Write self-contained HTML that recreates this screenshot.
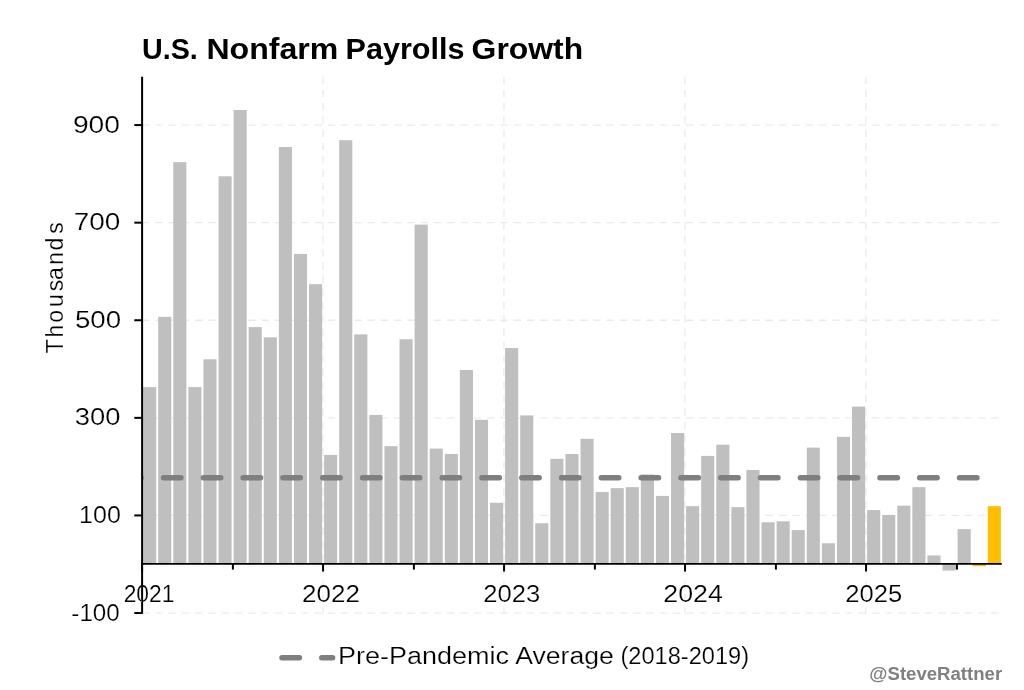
<!DOCTYPE html><html><head><meta charset="utf-8"><style>html,body{margin:0;padding:0;background:#fff;width:1024px;height:690px;overflow:hidden}svg{display:block;will-change:transform}text{font-family:"Liberation Sans",sans-serif}</style></head><body>
<svg width="1024" height="690" viewBox="0 0 1024 690">
<rect width="1024" height="690" fill="#fff"/>
<defs><clipPath id="ax"><rect x="142" y="76" width="862" height="540"/></clipPath></defs>
<line x1="142" y1="613.04" x2="1002" y2="613.04" stroke="#ebebeb" stroke-width="1.3" stroke-dasharray="7.4 5.87"/>
<line x1="142" y1="515.44" x2="1002" y2="515.44" stroke="#ebebeb" stroke-width="1.3" stroke-dasharray="7.4 5.87"/>
<line x1="142" y1="417.85" x2="1002" y2="417.85" stroke="#ebebeb" stroke-width="1.3" stroke-dasharray="7.4 5.87"/>
<line x1="142" y1="320.25" x2="1002" y2="320.25" stroke="#ebebeb" stroke-width="1.3" stroke-dasharray="7.4 5.87"/>
<line x1="142" y1="222.66" x2="1002" y2="222.66" stroke="#ebebeb" stroke-width="1.3" stroke-dasharray="7.4 5.87"/>
<line x1="142" y1="125.07" x2="1002" y2="125.07" stroke="#ebebeb" stroke-width="1.3" stroke-dasharray="7.4 5.87"/>
<line x1="322.95" y1="613.2" x2="322.95" y2="76.7" stroke="#ebebeb" stroke-width="1.3" stroke-dasharray="7.4 5.87" stroke-dashoffset="1.5"/>
<line x1="503.95" y1="613.2" x2="503.95" y2="76.7" stroke="#ebebeb" stroke-width="1.3" stroke-dasharray="7.4 5.87" stroke-dashoffset="1.5"/>
<line x1="684.95" y1="613.2" x2="684.95" y2="76.7" stroke="#ebebeb" stroke-width="1.3" stroke-dasharray="7.4 5.87" stroke-dashoffset="1.5"/>
<line x1="865.95" y1="613.2" x2="865.95" y2="76.7" stroke="#ebebeb" stroke-width="1.3" stroke-dasharray="7.4 5.87" stroke-dashoffset="1.5"/>
<rect x="143.10" y="387.11" width="13.1" height="176.89" fill="#bfbfbf"/>
<rect x="158.18" y="316.84" width="13.1" height="247.16" fill="#bfbfbf"/>
<rect x="173.27" y="162.15" width="13.1" height="401.85" fill="#bfbfbf"/>
<rect x="188.35" y="387.11" width="13.1" height="176.89" fill="#bfbfbf"/>
<rect x="203.43" y="359.29" width="13.1" height="204.71" fill="#bfbfbf"/>
<rect x="218.52" y="176.30" width="13.1" height="387.70" fill="#bfbfbf"/>
<rect x="233.60" y="109.94" width="13.1" height="454.06" fill="#bfbfbf"/>
<rect x="248.68" y="327.09" width="13.1" height="236.91" fill="#bfbfbf"/>
<rect x="263.77" y="337.33" width="13.1" height="226.67" fill="#bfbfbf"/>
<rect x="278.85" y="147.03" width="13.1" height="416.97" fill="#bfbfbf"/>
<rect x="293.93" y="253.89" width="13.1" height="310.11" fill="#bfbfbf"/>
<rect x="309.02" y="284.15" width="13.1" height="279.85" fill="#bfbfbf"/>
<rect x="324.10" y="454.93" width="13.1" height="109.07" fill="#bfbfbf"/>
<rect x="339.18" y="140.19" width="13.1" height="423.81" fill="#bfbfbf"/>
<rect x="354.27" y="334.41" width="13.1" height="229.59" fill="#bfbfbf"/>
<rect x="369.35" y="414.92" width="13.1" height="149.08" fill="#bfbfbf"/>
<rect x="384.43" y="446.15" width="13.1" height="117.85" fill="#bfbfbf"/>
<rect x="399.52" y="339.29" width="13.1" height="224.71" fill="#bfbfbf"/>
<rect x="414.60" y="224.61" width="13.1" height="339.39" fill="#bfbfbf"/>
<rect x="429.68" y="448.59" width="13.1" height="115.41" fill="#bfbfbf"/>
<rect x="444.77" y="453.96" width="13.1" height="110.04" fill="#bfbfbf"/>
<rect x="459.85" y="370.03" width="13.1" height="193.97" fill="#bfbfbf"/>
<rect x="474.93" y="419.80" width="13.1" height="144.20" fill="#bfbfbf"/>
<rect x="490.02" y="502.76" width="13.1" height="61.24" fill="#bfbfbf"/>
<rect x="505.10" y="348.07" width="13.1" height="215.93" fill="#bfbfbf"/>
<rect x="520.18" y="415.41" width="13.1" height="148.59" fill="#bfbfbf"/>
<rect x="535.27" y="523.25" width="13.1" height="40.75" fill="#bfbfbf"/>
<rect x="550.35" y="458.84" width="13.1" height="105.16" fill="#bfbfbf"/>
<rect x="565.43" y="453.96" width="13.1" height="110.04" fill="#bfbfbf"/>
<rect x="580.52" y="438.83" width="13.1" height="125.17" fill="#bfbfbf"/>
<rect x="595.60" y="492.02" width="13.1" height="71.98" fill="#bfbfbf"/>
<rect x="610.68" y="488.12" width="13.1" height="75.88" fill="#bfbfbf"/>
<rect x="625.77" y="487.14" width="13.1" height="76.86" fill="#bfbfbf"/>
<rect x="640.85" y="474.45" width="13.1" height="89.55" fill="#bfbfbf"/>
<rect x="655.93" y="495.92" width="13.1" height="68.08" fill="#bfbfbf"/>
<rect x="671.02" y="432.98" width="13.1" height="131.02" fill="#bfbfbf"/>
<rect x="686.10" y="506.17" width="13.1" height="57.83" fill="#bfbfbf"/>
<rect x="701.18" y="455.91" width="13.1" height="108.09" fill="#bfbfbf"/>
<rect x="716.27" y="444.69" width="13.1" height="119.31" fill="#bfbfbf"/>
<rect x="731.35" y="507.15" width="13.1" height="56.85" fill="#bfbfbf"/>
<rect x="746.43" y="470.06" width="13.1" height="93.94" fill="#bfbfbf"/>
<rect x="761.52" y="522.27" width="13.1" height="41.73" fill="#bfbfbf"/>
<rect x="776.60" y="521.30" width="13.1" height="42.70" fill="#bfbfbf"/>
<rect x="791.68" y="530.08" width="13.1" height="33.92" fill="#bfbfbf"/>
<rect x="806.77" y="447.62" width="13.1" height="116.38" fill="#bfbfbf"/>
<rect x="821.85" y="543.26" width="13.1" height="20.74" fill="#bfbfbf"/>
<rect x="836.93" y="436.88" width="13.1" height="127.12" fill="#bfbfbf"/>
<rect x="852.02" y="406.63" width="13.1" height="157.37" fill="#bfbfbf"/>
<rect x="867.10" y="510.08" width="13.1" height="53.92" fill="#bfbfbf"/>
<rect x="882.18" y="514.96" width="13.1" height="49.04" fill="#bfbfbf"/>
<rect x="897.26" y="505.68" width="13.1" height="58.32" fill="#bfbfbf"/>
<rect x="912.35" y="487.14" width="13.1" height="76.86" fill="#bfbfbf"/>
<rect x="927.43" y="555.46" width="13.1" height="8.54" fill="#bfbfbf"/>
<rect x="942.51" y="563.50" width="13.1" height="7.08" fill="#bfbfbf"/>
<rect x="957.60" y="529.11" width="13.1" height="34.89" fill="#bfbfbf"/>
<rect x="972.68" y="563.50" width="13.1" height="2.69" fill="#ffbf00"/>
<rect x="987.76" y="506.17" width="13.1" height="57.83" fill="#ffbf00"/>
<line x1="123.75" y1="477.85" x2="990" y2="477.85" stroke="#7f7f7f" stroke-width="5.5" stroke-linecap="round" stroke-dasharray="17.4 22.4" clip-path="url(#ax)"/>
<line x1="142.1" y1="76.7" x2="142.1" y2="613.8" stroke="#000" stroke-width="2"/>
<line x1="141.1" y1="563.85" x2="1001.8" y2="563.85" stroke="#000" stroke-width="1.9"/>
<line x1="134.3" y1="613.04" x2="142" y2="613.04" stroke="#000" stroke-width="2"/>
<line x1="134.3" y1="515.44" x2="142" y2="515.44" stroke="#000" stroke-width="2"/>
<line x1="134.3" y1="417.85" x2="142" y2="417.85" stroke="#000" stroke-width="2"/>
<line x1="134.3" y1="320.25" x2="142" y2="320.25" stroke="#000" stroke-width="2"/>
<line x1="134.3" y1="222.66" x2="142" y2="222.66" stroke="#000" stroke-width="2"/>
<line x1="134.3" y1="125.07" x2="142" y2="125.07" stroke="#000" stroke-width="2"/>
<line x1="142.05" y1="564" x2="142.05" y2="571.5" stroke="#000" stroke-width="2"/>
<line x1="232.90" y1="564" x2="232.90" y2="569.6" stroke="#000" stroke-width="2"/>
<line x1="323.05" y1="564" x2="323.05" y2="571.5" stroke="#000" stroke-width="2"/>
<line x1="413.90" y1="564" x2="413.90" y2="569.6" stroke="#000" stroke-width="2"/>
<line x1="504.05" y1="564" x2="504.05" y2="571.5" stroke="#000" stroke-width="2"/>
<line x1="594.90" y1="564" x2="594.90" y2="569.6" stroke="#000" stroke-width="2"/>
<line x1="685.05" y1="564" x2="685.05" y2="571.5" stroke="#000" stroke-width="2"/>
<line x1="775.90" y1="564" x2="775.90" y2="569.6" stroke="#000" stroke-width="2"/>
<line x1="866.05" y1="564" x2="866.05" y2="571.5" stroke="#000" stroke-width="2"/>
<line x1="956.90" y1="564" x2="956.90" y2="569.6" stroke="#000" stroke-width="2"/>
<text id="t_US" x="142.00" y="59.20" font-size="29.5" font-weight="bold" textLength="55.82" lengthAdjust="spacingAndGlyphs" fill="#000">U.S.</text>
<text id="t_Nonfarm" x="206.48" y="59.20" font-size="29.5" font-weight="bold" textLength="131.82" lengthAdjust="spacingAndGlyphs" fill="#000">Nonfarm</text>
<text id="t_Payrolls" x="345.64" y="59.20" font-size="29.5" font-weight="bold" textLength="118.88" lengthAdjust="spacingAndGlyphs" fill="#000">Payrolls</text>
<text id="t_Growth" x="471.64" y="59.20" font-size="29.5" font-weight="bold" textLength="111.48" lengthAdjust="spacingAndGlyphs" fill="#000">Growth</text>
<text id="y900" x="72.94" y="132.67" font-size="23" font-weight="normal" textLength="47.06" lengthAdjust="spacingAndGlyphs" fill="#000" stroke="#fff" stroke-width="0.2">900</text>
<text id="y700" x="73.76" y="230.26" font-size="23" font-weight="normal" textLength="46.58" lengthAdjust="spacingAndGlyphs" fill="#000" stroke="#fff" stroke-width="0.2">700</text>
<text id="y500" x="74.94" y="327.86" font-size="23" font-weight="normal" textLength="46.12" lengthAdjust="spacingAndGlyphs" fill="#000" stroke="#fff" stroke-width="0.2">500</text>
<text id="y300" x="74.82" y="425.45" font-size="23" font-weight="normal" textLength="45.64" lengthAdjust="spacingAndGlyphs" fill="#000" stroke="#fff" stroke-width="0.2">300</text>
<text id="y100" x="79.06" y="523.04" font-size="23" font-weight="normal" textLength="41.76" lengthAdjust="spacingAndGlyphs" fill="#000" stroke="#fff" stroke-width="0.2">100</text>
<text id="y-100" x="71.36" y="620.64" font-size="23" font-weight="normal" textLength="48.36" lengthAdjust="spacingAndGlyphs" fill="#000" stroke="#fff" stroke-width="0.2">-100</text>
<text id="x2021" x="123.64" y="601.80" font-size="23" font-weight="normal" textLength="50.72" lengthAdjust="spacingAndGlyphs" fill="#000" stroke="#fff" stroke-width="0.2">2021</text>
<text id="x2022" x="302.06" y="601.80" font-size="23" font-weight="normal" textLength="57.82" lengthAdjust="spacingAndGlyphs" fill="#000" stroke="#fff" stroke-width="0.2">2022</text>
<text id="x2023" x="483.24" y="601.80" font-size="23" font-weight="normal" textLength="56.94" lengthAdjust="spacingAndGlyphs" fill="#000" stroke="#fff" stroke-width="0.2">2023</text>
<text id="x2024" x="663.24" y="601.80" font-size="23" font-weight="normal" textLength="59.58" lengthAdjust="spacingAndGlyphs" fill="#000" stroke="#fff" stroke-width="0.2">2024</text>
<text id="x2025" x="845.24" y="601.80" font-size="23" font-weight="normal" textLength="56.94" lengthAdjust="spacingAndGlyphs" fill="#000" stroke="#fff" stroke-width="0.2">2025</text>
<text id="l_PP" x="338.00" y="664.10" font-size="23" font-weight="normal" textLength="171.12" lengthAdjust="spacingAndGlyphs" fill="#000" stroke="#fff" stroke-width="0.2">Pre-Pandemic</text>
<text id="l_Avg" x="515.24" y="664.10" font-size="23" font-weight="normal" textLength="98.58" lengthAdjust="spacingAndGlyphs" fill="#000" stroke="#fff" stroke-width="0.2">Average</text>
<text id="l_Yrs" x="620.48" y="664.10" font-size="23" font-weight="normal" textLength="128.58" lengthAdjust="spacingAndGlyphs" fill="#000" stroke="#fff" stroke-width="0.2">(2018-2019)</text>
<text id="water" x="869.36" y="679.80" font-size="18" font-weight="bold" textLength="132.82" lengthAdjust="spacingAndGlyphs" fill="#808080">@SteveRattner</text>
<text transform="translate(63.0,352.4) rotate(-90)" x="-0.80 15.00 29.60 45.40 61.20 72.50 87.70 101.80 118.60" y="0" font-size="23" fill="#000" stroke="#fff" stroke-width="0.2">Thousands</text>
<line x1="282" y1="657.8" x2="332.6" y2="657.8" stroke="#7f7f7f" stroke-width="5.5" stroke-linecap="round" stroke-dasharray="17.4 22.4"/>
</svg></body></html>
